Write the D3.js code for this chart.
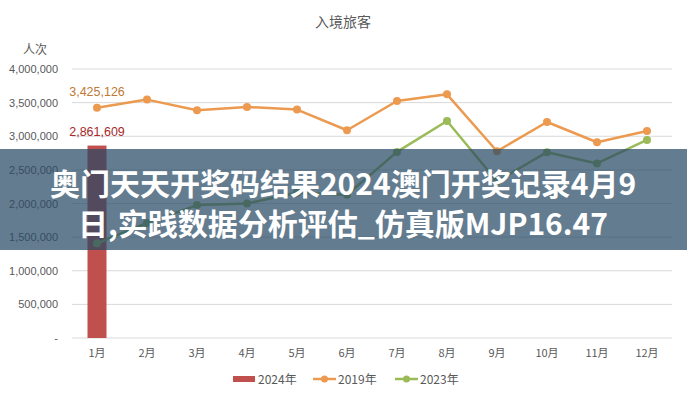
<!DOCTYPE html>
<html>
<head>
<meta charset="utf-8">
<script src="https://cdn.jsdelivr.net/npm/d3@7"></script>
<style>
  body { margin: 0; background: #fff; }
  text { font-family: "Liberation Sans", "Noto Sans CJK SC", sans-serif; }
  .cjk { font-family: "Noto Sans CJK SC", sans-serif; }
</style>
</head>
<body>
<script>
// chart data
const months = ["1月", "2月", "3月", "4月", "5月", "6月", "7月", "8月", "9月", "10月", "11月", "12月"];
const v2024 = [2861609];
const v2019 = [3425126, 3545000, 3386000, 3435000, 3396000, 3089000, 3524000, 3623000, 2777000, 3212000, 2911000, 3079000];
const v2023 = [1408000, 1710000, 1976000, 2000000, 2160000, 2130000, 2767000, 3227000, 2330000, 2763000, 2595000, 2945000];
const yTicks = [0, 500000, 1000000, 1500000, 2000000, 2500000, 3000000, 3500000, 4000000];
const seriesNames = ["2024年", "2019年", "2023年"];
const bannerLines = ["奥门天天开奖码结果2024澳门开奖记录4月9", "日,实践数据分析评估_仿真版MJP16.47"];

const W = 687, H = 400;
const margin = { top: 69, right: 15, bottom: 62, left: 72 };
const width = W - margin.left - margin.right;
const height = H - margin.top - margin.bottom;

const colors = { bar: "#c0504d", o: "#eb9a50", g: "#9bbb59" };

const svg = d3.select("body").append("svg")
    .attr("width", W)
    .attr("height", H);

const g = svg.append("g").attr("transform", `translate(${margin.left},${margin.top})`);

const x = d3.scaleBand().domain(months).range([0, width]);
const y = d3.scaleLinear().domain([0, 4000000]).range([height, 0]);

// title + unit
svg.append("text").attr("class", "cjk")
    .attr("x", 343).attr("y", 27)
    .attr("text-anchor", "middle")
    .attr("font-size", 14).attr("fill", "#595959")
    .text("入境旅客");
svg.append("text").attr("class", "cjk")
    .attr("x", 35).attr("y", 54)
    .attr("text-anchor", "middle")
    .attr("font-size", 12).attr("fill", "#595959")
    .text("人次");

// gridlines
g.append("g")
    .selectAll("line")
    .data(yTicks)
    .join("line")
    .attr("x1", 0).attr("x2", width)
    .attr("y1", d => y(d)).attr("y2", d => y(d))
    .attr("stroke", "#d9d9d9").attr("stroke-width", 1);

// y axis
const yAxis = d3.axisLeft(y).tickValues(yTicks).tickSize(0).tickPadding(14)
    .tickFormat(d => d === 0 ? "-" : d3.format(",")(d));
const gy = g.append("g").call(yAxis);
gy.select(".domain").remove();
gy.selectAll("text").attr("font-size", 11).attr("fill", "#595959")
    .attr("font-family", "Liberation Sans, sans-serif");

// x axis
const xAxis = d3.axisBottom(x).tickSize(0).tickPadding(11);
const gx = g.append("g").attr("transform", `translate(0,${height})`).call(xAxis);
gx.select(".domain").remove();
gx.selectAll("text").attr("class", "cjk").attr("font-size", 11).attr("fill", "#595959");

// 2024 bar
const barW = 19;
g.selectAll("rect.bar")
    .data(v2024)
    .join("rect")
    .attr("class", "bar")
    .attr("x", (d, i) => x(months[i]) + x.bandwidth() / 2 - barW / 2)
    .attr("width", barW)
    .attr("y", d => y(d))
    .attr("height", d => height - y(d))
    .attr("fill", colors.bar);

// lines
const line = d3.line()
    .x((d, i) => x(months[i]) + x.bandwidth() / 2)
    .y(d => y(d));

function drawSeries(values, color) {
    g.append("path")
        .datum(values)
        .attr("fill", "none")
        .attr("stroke", color)
        .attr("stroke-width", 2.5)
        .attr("stroke-linejoin", "round")
        .attr("d", line);
    g.append("g")
        .selectAll("circle")
        .data(values)
        .join("circle")
        .attr("cx", (d, i) => x(months[i]) + x.bandwidth() / 2)
        .attr("cy", d => y(d))
        .attr("r", 4)
        .attr("fill", color);
}
drawSeries(v2019, colors.o);
drawSeries(v2023, colors.g);

// data labels
g.append("text")
    .attr("x", x(months[0]) + x.bandwidth() / 2)
    .attr("y", y(v2019[0]) - 12)
    .attr("text-anchor", "middle")
    .attr("font-size", 12.5).attr("fill", "#c07a35")
    .text(d3.format(",")(v2019[0]));
g.append("text")
    .attr("x", x(months[0]) + x.bandwidth() / 2)
    .attr("y", y(v2024[0]) - 10)
    .attr("text-anchor", "middle")
    .attr("font-size", 12.5).attr("fill", "#a52a2a")
    .text(d3.format(",")(v2024[0]));

// legend
const legend = svg.append("g").attr("transform", "translate(0,379)");
const legendItems = [
    { name: seriesNames[0], color: colors.bar, type: "bar", x: 233 },
    { name: seriesNames[1], color: colors.o, type: "line", x: 313 },
    { name: seriesNames[2], color: colors.g, type: "line", x: 395 }
];
legendItems.forEach(it => {
    if (it.type === "bar") {
        legend.append("rect").attr("x", it.x).attr("y", -3).attr("width", 22).attr("height", 6).attr("fill", it.color);
    } else {
        legend.append("line").attr("x1", it.x).attr("x2", it.x + 23).attr("y1", 0).attr("y2", 0)
            .attr("stroke", it.color).attr("stroke-width", 2.5);
        legend.append("circle").attr("cx", it.x + 11.5).attr("cy", 0).attr("r", 3.5).attr("fill", it.color);
    }
    legend.append("text").attr("class", "cjk")
        .attr("x", it.x + 25).attr("y", 4.5)
        .attr("font-size", 12).attr("fill", "#595959")
        .text(it.name);
});

// overlay banner
svg.append("rect")
    .attr("x", 0).attr("y", 149)
    .attr("width", W).attr("height", 101)
    .attr("fill", "rgb(40,74,100)")
    .attr("fill-opacity", 0.72);
svg.selectAll("text.banner")
    .data(bannerLines)
    .join("text")
    .attr("class", "banner cjk")
    .attr("x", 343)
    .attr("y", (d, i) => 195 + i * 40)
    .attr("text-anchor", "middle")
    .attr("font-size", 30)
    .attr("font-weight", "bold")
    .attr("fill", "#fff")
    .text(d => d);
</script>
</body>
</html>
